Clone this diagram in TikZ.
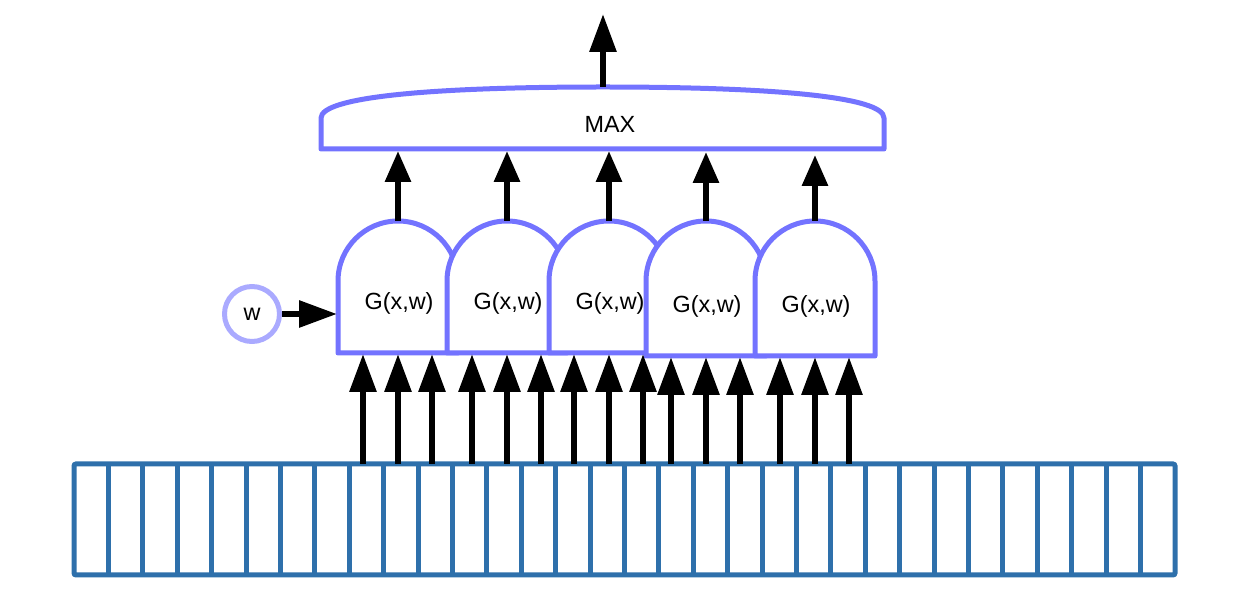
\documentclass[tikz,border=0pt]{standalone}
\usepackage{fontspec}
\setmainfont{Liberation Sans}
\usepackage{tikz}
\usetikzlibrary{arrows.meta}
\tikzset{>={Triangle[length=19pt,width=13pt]}}
\definecolor{gatecol}{RGB}{115,115,255}
\definecolor{wcol}{RGB}{170,170,255}
\definecolor{barcol}{RGB}{46,112,171}

\begin{document}
\begin{tikzpicture}[x=0.5pt, y=-0.5pt, font=\fontsize{11.7}{14}\selectfont,
  gate/.style={draw=gatecol, line width=2.5pt, fill=white, line join=round},
  cell/.style={draw=barcol, line width=2.5pt},
  flow/.style={->, line width=3pt},
  short/.style={-{Triangle[length=15.5pt,width=12.5pt]}, line width=3pt}]
\useasboundingbox (0,0) rectangle (1250,614);

% input bar
\draw[cell, rounded corners=1pt] (74,464) rectangle (1175,575);
\foreach \i in {1,...,31}
  \draw[cell] ({74+34.406*\i},464) -- ({74+34.406*\i},575);

% gates
\foreach \cx/\by/\ty [count=\n] in {398/353/151, 507/353/151, 609/353/151, 706/356/152, 815/356/155} {
  \draw[gate] (\cx-60,\by) -- (\cx-60,281)
    arc[start angle=180, delta angle=180, radius=60] -- (\cx+60,\by) -- cycle;
  \node (g\n) at (\cx+1,\by-50) {G(x,w)};
  \coordinate (gt\n) at (\cx,221);
  \coordinate (mx\n) at (\cx,\ty);
  \foreach \dx [count=\k] in {-35,0,34} {
    \coordinate (in\n-\k) at (\cx+\dx,464);
    \coordinate (gb\n-\k) at (\cx+\dx,\by+1);
  }
}

% max
\draw[gate] (321,149) -- (321,118) .. controls (321,97) and (430,87) .. (603,87)
  .. controls (776,87) and (884,97) .. (884,118) -- (884,149) -- cycle;
\node (max) at (610,124) {MAX};
\coordinate (maxtop) at (603,87);
\coordinate (out) at (603,14);

% parameter
\node[circle, draw=wcol, line width=2.5pt, minimum size=27.5pt, inner sep=0pt] (w) at (252,314) {w};
\coordinate (gin) at (337,314);

% connectors
\foreach \n in {1,...,5} {
  \draw[short] (gt\n) -- (mx\n);
  \foreach \k in {1,2,3}
    \draw[flow] (in\n-\k) -- (gb\n-\k);
}
\draw[flow] (w) -- (gin);
\draw[flow] (maxtop) -- (out);
\end{tikzpicture}
\end{document}
